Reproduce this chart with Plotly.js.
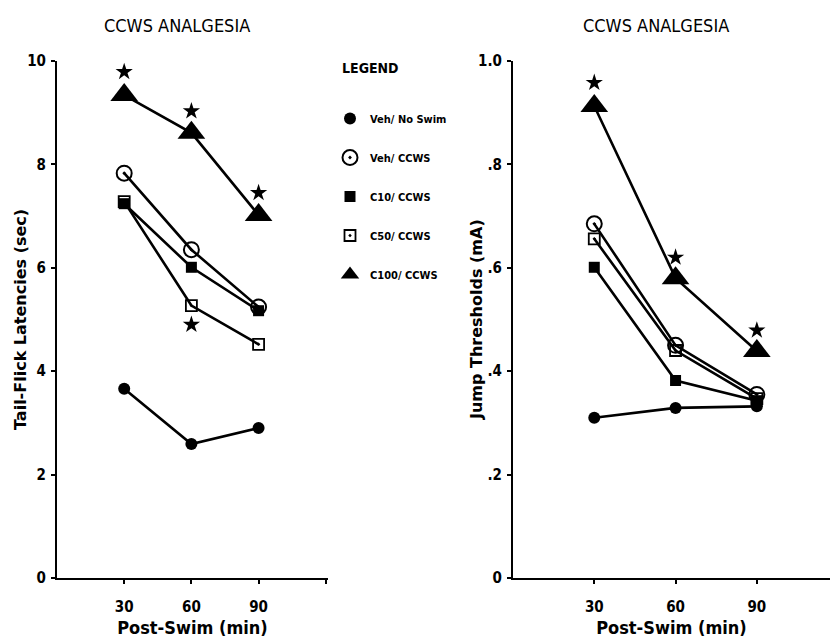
<!DOCTYPE html>
<html><head><meta charset="utf-8">
<script src="https://cdn.plot.ly/plotly-3.0.1.min.js"></script>
<style>html,body{margin:0;padding:0;background:#fff}#chart{width:830px;height:641px}</style>
</head><body><div id="chart"></div>
<script>
// ---- data ----
var times = [30, 60, 90];
var seriesNames = ['Veh/ No Swim', 'Veh/ CCWS', 'C10/ CCWS', 'C50/ CCWS', 'C100/ CCWS'];
// Left panel: Tail-flick latencies (sec)
var tfVehNoSwim = [3.66, 2.59, 2.90];
var tfVehCCWS   = [7.83, 6.35, 5.24];
var tfC10       = [7.24, 6.01, 5.17];
var tfC50       = [7.28, 5.27, 4.52];
var tfC100      = [9.34, 8.61, 7.02];
var tfStarX     = [30, 60, 90, 60];
var tfStarY     = [9.79, 9.03, 7.45, 4.90];
// Right panel: Jump thresholds (mA)
var jtVehNoSwim = [0.31, 0.329, 0.332];
var jtVehCCWS   = [0.685, 0.45, 0.355];
var jtC10       = [0.601, 0.382, 0.343];
var jtC50       = [0.656, 0.44, 0.347];
var jtC100      = [0.913, 0.58, 0.439];
var jtStarX     = [30, 60, 90];
var jtStarY     = [0.958, 0.62, 0.479];
var leftTickVals = [0, 2, 4, 6, 8, 10];
var leftTickText = ['0', '2', '4', '6', '8', '10'];
var rightTickVals = [0, 0.2, 0.4, 0.6, 0.8, 1.0];
var rightTickText = ['0', '.2', '.4', '.6', '.8', '1.0'];
var xTickVals = [30, 60, 90, 120];
var xTickText = ['30', '60', '90', ''];

// ---- styles ----
var NARROW = '"DejaVu Sans Condensed", "DejaVu Sans", sans-serif';
function nf(size, bold) {
  return {family: NARROW, size: size, color: '#000', weight: bold ? 'bold' : 'normal', stretch: 'condensed'};
}
var markerStyles = [
  {symbol: 'circle', size: 12, color: '#000'},
  {symbol: 'circle-open-dot', size: 15, color: '#000', line: {width: 2, color: '#000'}},
  {symbol: 'square', size: 11, color: '#000'},
  {symbol: 'square-open-dot', size: 11, color: '#000', line: {width: 1.8, color: '#000'}},
  {symbol: 'triangle-up', size: 24, color: '#000'}
];
var leftSeries = [tfVehNoSwim, tfVehCCWS, tfC10, tfC50, tfC100];
var rightSeries = [jtVehNoSwim, jtVehCCWS, jtC10, jtC50, jtC100];
var traces = [];
function addPanel(series, xa, ya) {
  series.forEach(function (vals, i) {
    traces.push({x: times, y: vals, xaxis: xa, yaxis: ya, type: 'scatter', mode: 'lines+markers',
      line: {color: '#000', width: 2.6}, marker: markerStyles[i], showlegend: false,
      cliponaxis: false, name: seriesNames[i]});
  });
}
addPanel(leftSeries, 'x', 'y');
addPanel(rightSeries, 'x2', 'y2');
traces.push({x: tfStarX, y: tfStarY, xaxis: 'x', yaxis: 'y', mode: 'markers', type: 'scatter',
  marker: {symbol: 'star', size: 13, color: '#000'}, showlegend: false, cliponaxis: false});
traces.push({x: jtStarX, y: jtStarY, xaxis: 'x2', yaxis: 'y2', mode: 'markers', type: 'scatter',
  marker: {symbol: 'star', size: 13, color: '#000'}, showlegend: false, cliponaxis: false});
// legend entries (markers only)
seriesNames.forEach(function (n, i) {
  traces.push({x: [null], y: [null], xaxis: 'x', yaxis: 'y', type: 'scatter', mode: 'markers',
    marker: markerStyles[i], name: n, legendgroup: 'g' + i, showlegend: true});
});

function xAxis(domain, range, anchor) {
  return {domain: domain, range: range, anchor: anchor, tickvals: xTickVals, ticktext: xTickText,
    showline: true, linecolor: '#000', linewidth: 2, ticks: 'outside', ticklen: 4, tickwidth: 2,
    tickcolor: '#000', showgrid: false, zeroline: false, fixedrange: true, ticklabelstandoff: 10,
    tickfont: nf(15, true),
    title: {text: 'Post-Swim (min)', standoff: 6, font: nf(18, true)}};
}
function yAxis(range, tv, tt, anchor) {
  return {range: range, anchor: anchor, tickvals: tv, ticktext: tt, showline: true, linecolor: '#000',
    linewidth: 2, ticks: 'outside', ticklen: 4, tickwidth: 2, tickcolor: '#000', showgrid: false,
    zeroline: false, fixedrange: true, ticklabelstandoff: 2,
    tickfont: nf(15, true)};
}
var YTITLE_FONT = {family: '"DejaVu Sans", sans-serif', size: 16, color: '#000', weight: 'bold'};
var layout = {
  width: 830, height: 641, paper_bgcolor: '#fff', plot_bgcolor: 'rgba(0,0,0,0)',
  margin: {l: 57, r: 0, t: 61, b: 63},
  font: {family: NARROW, color: '#000'},
  xaxis: xAxis([0, 0.3506], [0, 121], 'y'),
  yaxis: yAxis([0, 10], leftTickVals, leftTickText, 'x'),
  xaxis2: xAxis([0.5899, 1], [0, 117], 'y2'),
  yaxis2: yAxis([0, 1], rightTickVals, rightTickText, 'x2'),
  showlegend: true,
  legend: {x: (330 - 57) / 773, y: 1 - (104 - 61) / 517, xanchor: 'left', yanchor: 'top', bgcolor: 'rgba(0,0,0,0)',
    tracegroupgap: 20, itemsizing: 'trace', itemwidth: 30,
    font: nf(11, true)},
  annotations: [
    {text: 'CCWS ANALGESIA', xref: 'paper', yref: 'paper', x: (177 - 57) / 773, y: 1, yshift: 36,
     xanchor: 'center', yanchor: 'middle', showarrow: false, font: nf(18, false)},
    {text: 'CCWS ANALGESIA', xref: 'paper', yref: 'paper', x: (656 - 57) / 773, y: 1, yshift: 36,
     xanchor: 'center', yanchor: 'middle', showarrow: false, font: nf(18, false)},
    {text: 'LEGEND', xref: 'paper', yref: 'paper', x: (340 - 57) / 773, y: 1 - (68 - 61) / 517,
     xanchor: 'left', yanchor: 'middle', showarrow: false, font: nf(14, true)},
    {text: 'Tail-Flick Latencies (sec)', xref: 'paper', yref: 'paper', x: (20 - 57) / 773, y: 1 - (320 - 61) / 517,
     xanchor: 'center', yanchor: 'middle', textangle: -90, showarrow: false, font: YTITLE_FONT},
    {text: 'Jump Thresholds (mA)', xref: 'paper', yref: 'paper', x: (476 - 57) / 773, y: 1 - (320 - 61) / 517,
     xanchor: 'center', yanchor: 'middle', textangle: -90, showarrow: false, font: YTITLE_FONT}
  ]
};
Plotly.newPlot('chart', traces, layout, {displayModeBar: false, staticPlot: true});
</script></body></html>
